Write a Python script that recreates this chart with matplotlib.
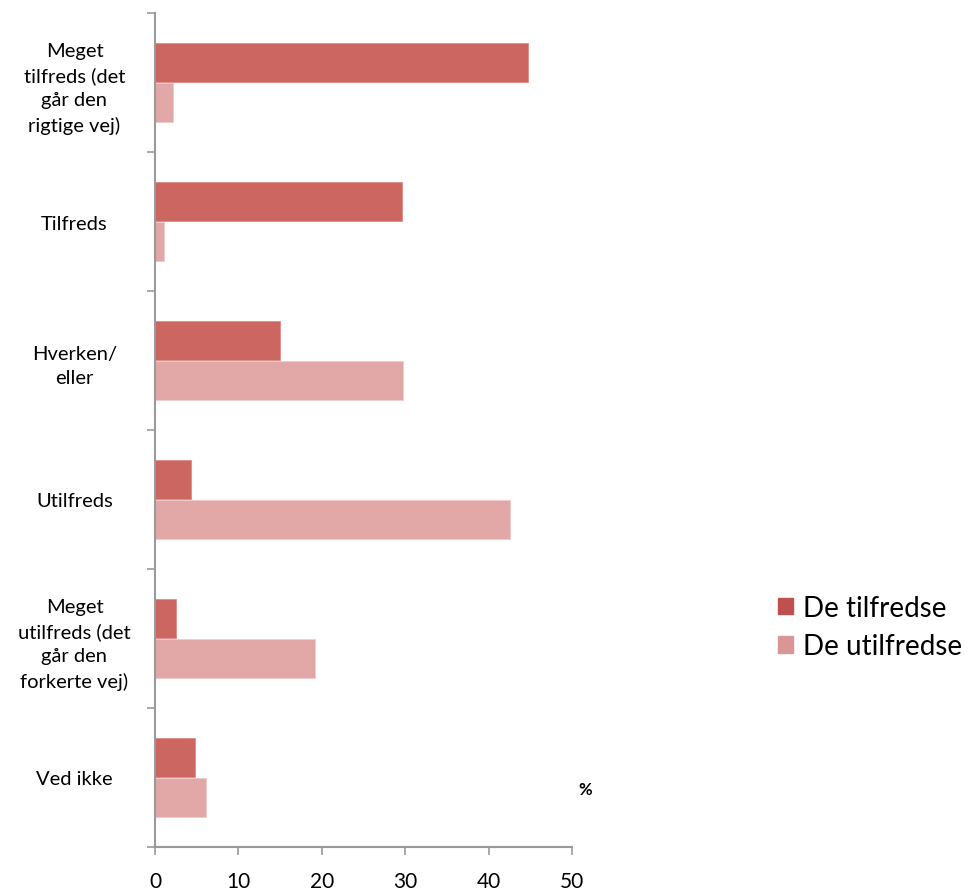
import matplotlib
matplotlib.use("Agg")
import matplotlib.pyplot as plt
from matplotlib.patches import Patch
import numpy as np

plt.rcParams['font.family'] = ['Lato', 'DejaVu Sans']

categories = [
    "Meget\ntilfreds (det\ngår den\nrigtige vej)",
    "Tilfreds",
    "Hverken/\neller",
    "Utilfreds",
    "Meget\nutilfreds (det\ngår den\nforkerte vej)",
    "Ved ikke",
]
series_names = ["De tilfredse", "De utilfredse"]
tilfredse = [44.7, 29.6, 15.0, 4.3, 2.5, 4.8]
utilfredse = [2.2, 1.1, 29.7, 42.6, 19.2, 6.1]
x_ticks = [0, 10, 20, 30, 40, 50]

dark = "#CC6660"
light = "#E2A8A7"
axis_grey = "#9A9A9A"

fig = plt.figure(figsize=(9.74, 8.95), dpi=100)
ax = fig.add_axes([155 / 974, 1 - 848 / 895, (572 - 155) / 974, (848 - 14) / 895])

y = np.arange(len(categories))
h = 0.28
ax.barh(y - 0.142, tilfredse, height=h, color=dark, edgecolor="#E08A86", linewidth=0.6)
ax.barh(y + 0.142, utilfredse, height=h, color=light, edgecolor="#F2CACA", linewidth=0.6)

ax.set_xlim(0, 50)
ax.set_ylim(len(categories) - 0.5, -0.5)

ax.set_xticks(x_ticks)
ax.set_xticklabels([str(t) for t in x_ticks], fontsize=15)
ax.tick_params(axis="x", direction="out", length=6, width=1.2, color=axis_grey, pad=11)

ax.set_yticks(y)
ax.set_yticklabels(categories, fontsize=14.5, linespacing=1.5, ha="center")
ax.tick_params(axis="y", length=0, pad=58)
ax.set_yticks(np.arange(len(categories) + 1) - 0.5, minor=True)
ax.tick_params(axis="y", which="minor", direction="out", length=6, width=1.2, color=axis_grey)

for s in ["top", "right"]:
    ax.spines[s].set_visible(False)
for s in ["left", "bottom"]:
    ax.spines[s].set_color(axis_grey)
    ax.spines[s].set_linewidth(1.5)

fig.text(585 / 974, 1 - 790 / 895, "%", fontsize=12, fontweight="bold", ha="center", va="center")

handles = [Patch(color="#C0504D"), Patch(color="#D99694")]
fig.legend(handles, series_names, loc="center left", bbox_to_anchor=(764 / 974, 1 - 628 / 895),
           frameon=False, fontsize=20, handlelength=0.55, handleheight=0.55,
           handletextpad=0.35, labelspacing=0.45, borderpad=0)

fig.savefig("out.png", dpi=100)
